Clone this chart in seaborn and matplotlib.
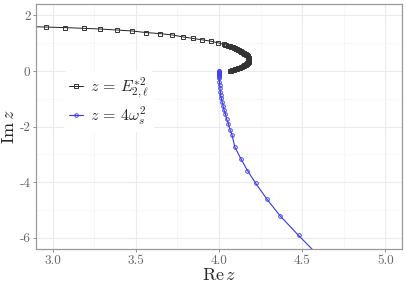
import numpy as np
import pandas as pd
import matplotlib
matplotlib.use("Agg")
import matplotlib.pyplot as plt
import seaborn as sns
from matplotlib.lines import Line2D

# values
e2_re = [2.85, 2.958, 3.077, 3.189, 3.287, 3.387, 3.480, 3.564, 3.646, 3.719,
         3.783, 3.843, 3.900, 3.950, 3.994,
         4.030, 4.038, 4.045, 4.053, 4.060, 4.066, 4.072, 4.078, 4.084, 4.090,
         4.095, 4.100, 4.105, 4.110, 4.115, 4.120, 4.125, 4.130, 4.135, 4.140,
         4.145, 4.149, 4.153, 4.157, 4.161, 4.165, 4.168, 4.172, 4.175, 4.177,
         4.179, 4.180, 4.181, 4.181, 4.181, 4.180, 4.179, 4.178, 4.176, 4.174,
         4.171, 4.168, 4.165, 4.161, 4.157, 4.153, 4.148, 4.143, 4.137, 4.132,
         4.126, 4.120, 4.114, 4.108, 4.102, 4.096, 4.090, 4.084, 4.077, 4.071,
         4.064]
e2_im = [1.600, 1.582, 1.561, 1.536, 1.511, 1.475, 1.439, 1.382, 1.346, 1.296,
         1.229, 1.172, 1.122, 1.075, 1.014,
         0.957, 0.943, 0.930, 0.918, 0.907, 0.893, 0.880, 0.865, 0.849, 0.835,
         0.820, 0.805, 0.789, 0.775, 0.760, 0.744, 0.728, 0.709, 0.690, 0.673,
         0.656, 0.643, 0.630, 0.615, 0.599, 0.580, 0.560, 0.537, 0.513, 0.492,
         0.470, 0.450, 0.430, 0.410, 0.390, 0.374, 0.358, 0.339, 0.320, 0.298,
         0.276, 0.260, 0.245, 0.230, 0.215, 0.200, 0.185, 0.170, 0.154, 0.140,
         0.125, 0.111, 0.097, 0.083, 0.070, 0.058, 0.047, 0.034, 0.022, 0.011,
         0.000]

w2_re = [4.000, 4.000, 4.000, 4.000, 4.000, 4.000, 4.000, 4.000, 4.000, 4.001,
         4.001, 4.002, 4.003, 4.004, 4.006, 4.008, 4.010, 4.014, 4.018, 4.024,
         4.030, 4.039, 4.046, 4.057, 4.066, 4.078, 4.095, 4.131, 4.171, 4.221,
         4.286, 4.366, 4.478, 4.600]
w2_im = [0.000, -0.015, -0.030, -0.045, -0.060, -0.080, -0.100, -0.120, -0.140, -0.170,
         -0.200, -0.260, -0.380, -0.500, -0.620, -0.740, -0.860, -0.980, -1.100, -1.240,
         -1.400, -1.550, -1.730, -1.910, -2.110, -2.290, -2.730, -3.150, -3.580, -4.040,
         -4.590, -5.200, -5.910, -6.650]

x_ticks = [3.0, 3.5, 4.0, 4.5, 5.0]
y_ticks = [2, 0, -2, -4, -6]

e2 = pd.DataFrame({"re": e2_re, "im": e2_im})
w2 = pd.DataFrame({"re": w2_re, "im": w2_im})

sns.set_style("whitegrid")
plt.rcParams["mathtext.fontset"] = "cm"
plt.rcParams["font.family"] = ["cmr10", "DejaVu Serif"]

fig, ax = plt.subplots(figsize=(4.07, 2.87), dpi=100)
fig.subplots_adjust(left=36/407, right=402/407, bottom=1-249/287, top=1-4.3/287)

blk_style = dict(color="#222222", lw=0.7, marker="s", markersize=2.4,
                 markerfacecolor="none", markeredgecolor="#333333", markeredgewidth=0.7)
blu_style = dict(color="#3535ee", lw=0.8, marker="o", markersize=2.6,
                 markerfacecolor="none", markeredgecolor="#4545e6", markeredgewidth=0.7)

sns.lineplot(data=e2, x="re", y="im", sort=False, estimator=None, ax=ax, **blk_style)
sns.lineplot(data=w2, x="re", y="im", sort=False, estimator=None, ax=ax, **blu_style)

ax.set_xlim(2.9, 5.1)
ax.set_ylim(-6.4, 2.4)
ax.set_xticks(x_ticks)
ax.set_xticklabels([f"{v:.1f}" for v in x_ticks])
ax.set_yticks(y_ticks)
ax.set_yticklabels([str(v) for v in y_ticks])
ax.set_xticks([3.25, 3.75, 4.25, 4.75], minor=True)
ax.set_yticks([1, -1, -3, -5], minor=True)
ax.grid(which="major", color="#ebebeb", lw=0.8)
ax.grid(which="minor", color="#f4f4f4", lw=0.5)
ax.tick_params(which="major", length=2.5, width=0.6, color="#7f7f7f",
               labelsize=9.5, labelcolor="#666666", pad=1.5, bottom=True, left=True)
ax.tick_params(which="minor", length=0)
for s in ax.spines.values():
    s.set_color("#9a9a9a")
    s.set_linewidth(0.9)

ax.set_xlabel(r"$\mathrm{Re}\,z$", fontsize=13, labelpad=0)
ax.set_ylabel(r"$\mathrm{Im}\,z$", fontsize=13, labelpad=2)

handles = [Line2D([], [], **blk_style), Line2D([], [], **blu_style)]
labels = [r"$z \,=\, E^{*2}_{2,\ell}$", r"$z \,=\, 4\omega_s^2$"]
leg = ax.legend(handles, labels, loc="upper left", bbox_to_anchor=(0.055, 0.76),
                frameon=True, fontsize=11.5, handlelength=0.9, handletextpad=0.45,
                labelspacing=0.3, borderpad=0.3)
leg.get_frame().set_edgecolor("none")
leg.get_frame().set_facecolor("white")
leg.get_frame().set_alpha(1.0)

fig.savefig("out.png", dpi=100)
